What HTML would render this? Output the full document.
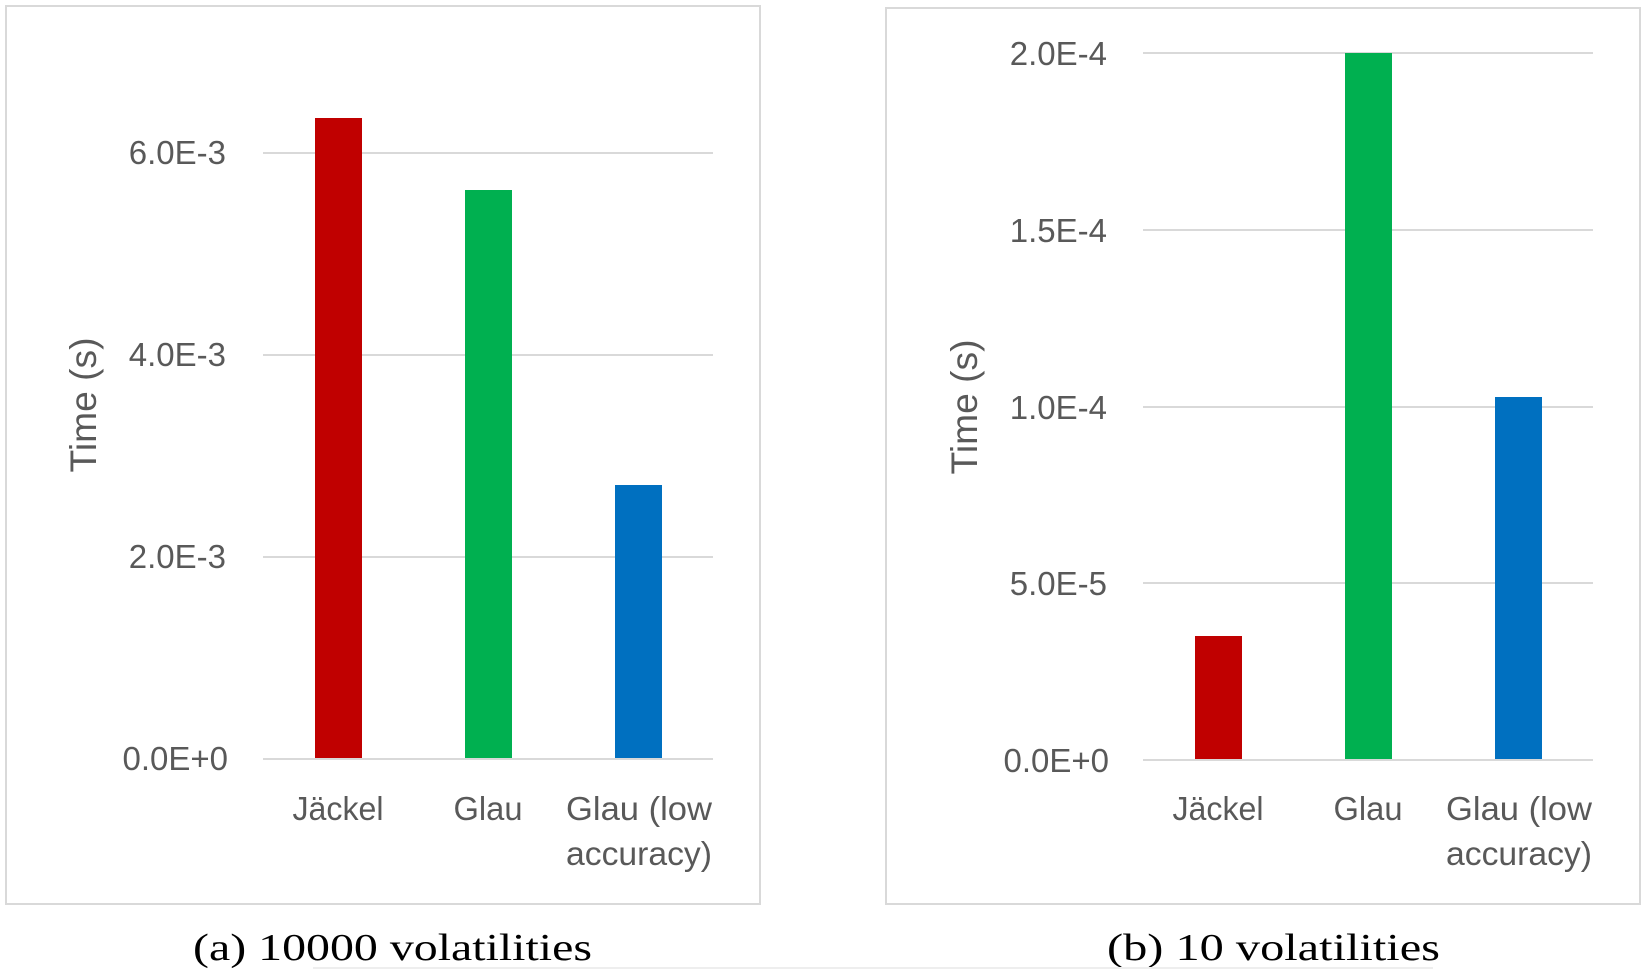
<!DOCTYPE html>
<html>
<head>
<meta charset="utf-8">
<style>
  html,body{margin:0;padding:0;background:#fff;}
  svg{display:block;}
  .tick{font-family:"Liberation Sans",sans-serif;font-size:33px;fill:#595959;}
  .cat{font-family:"Liberation Sans",sans-serif;font-size:33px;fill:#595959;}
  .ttl{font-family:"Liberation Sans",sans-serif;font-size:37px;fill:#595959;}
  .cap{font-family:"Liberation Serif",serif;font-size:38px;fill:#000;}
</style>
</head>
<body>
<svg width="1647" height="970" viewBox="0 0 1647 970" xmlns="http://www.w3.org/2000/svg">
  <rect x="0" y="0" width="1647" height="970" fill="#fff"/>

  <!-- ===== Left panel ===== -->
  <rect x="6" y="6" width="754" height="898" fill="#fff" stroke="#d9d9d9" stroke-width="2"/>
  <!-- gridlines -->
  <g stroke="#d9d9d9" stroke-width="2">
    <line x1="263" y1="153" x2="713" y2="153"/>
    <line x1="263" y1="355" x2="713" y2="355"/>
    <line x1="263" y1="557" x2="713" y2="557"/>
    <line x1="263" y1="759" x2="713" y2="759"/>
  </g>
  <!-- bars -->
  <rect x="315" y="118" width="47" height="640" fill="#C00000"/>
  <rect x="465" y="190" width="47" height="568" fill="#00B050"/>
  <rect x="615" y="485" width="47" height="273" fill="#0070C0"/>
  <!-- tick labels -->
  <g class="tick" text-anchor="end">
    <text x="226" y="164">6.0E-3</text>
    <text x="226" y="366">4.0E-3</text>
    <text x="226" y="568">2.0E-3</text>
    <text x="228" y="770">0.0E+0</text>
  </g>
  <!-- category labels -->
  <g class="cat" text-anchor="middle">
    <text x="338" y="820" textLength="91" lengthAdjust="spacingAndGlyphs">Jäckel</text>
    <text x="488" y="820" textLength="69" lengthAdjust="spacingAndGlyphs">Glau</text>
    <text x="639" y="820" textLength="146" lengthAdjust="spacingAndGlyphs">Glau (low</text>
    <text x="639" y="865" textLength="146" lengthAdjust="spacingAndGlyphs">accuracy)</text>
  </g>
  <!-- axis title -->
  <text class="ttl" text-anchor="middle" transform="translate(96,405) rotate(-90)" textLength="135" lengthAdjust="spacingAndGlyphs">Time (s)</text>
  <!-- caption -->
  <text class="cap" x="193" y="960" textLength="399" lengthAdjust="spacingAndGlyphs">(a) 10000 volatilities</text>

  <!-- ===== Right panel ===== -->
  <rect x="886" y="8" width="754" height="896" fill="#fff" stroke="#d9d9d9" stroke-width="2"/>
  <g stroke="#d9d9d9" stroke-width="2">
    <line x1="1143" y1="53" x2="1593" y2="53"/>
    <line x1="1143" y1="230" x2="1593" y2="230"/>
    <line x1="1143" y1="407" x2="1593" y2="407"/>
    <line x1="1143" y1="583" x2="1593" y2="583"/>
    <line x1="1143" y1="760" x2="1593" y2="760"/>
  </g>
  <rect x="1195" y="636" width="47" height="123" fill="#C00000"/>
  <rect x="1345" y="53" width="47" height="706" fill="#00B050"/>
  <rect x="1495" y="397" width="47" height="362" fill="#0070C0"/>
  <g class="tick" text-anchor="end">
    <text x="1107" y="65">2.0E-4</text>
    <text x="1107" y="242">1.5E-4</text>
    <text x="1107" y="419">1.0E-4</text>
    <text x="1107" y="595">5.0E-5</text>
    <text x="1109" y="772">0.0E+0</text>
  </g>
  <g class="cat" text-anchor="middle">
    <text x="1218" y="820" textLength="91" lengthAdjust="spacingAndGlyphs">Jäckel</text>
    <text x="1368" y="820" textLength="69" lengthAdjust="spacingAndGlyphs">Glau</text>
    <text x="1519" y="820" textLength="146" lengthAdjust="spacingAndGlyphs">Glau (low</text>
    <text x="1519" y="865" textLength="146" lengthAdjust="spacingAndGlyphs">accuracy)</text>
  </g>
  <text class="ttl" text-anchor="middle" transform="translate(977,407) rotate(-90)" textLength="135" lengthAdjust="spacingAndGlyphs">Time (s)</text>
  <text class="cap" x="1107" y="960" textLength="333" lengthAdjust="spacingAndGlyphs">(b) 10 volatilities</text>

  <!-- faint bottom rule -->
  <rect x="313" y="967" width="1120" height="2" fill="#eeeeee"/>
</svg>
</body>
</html>
